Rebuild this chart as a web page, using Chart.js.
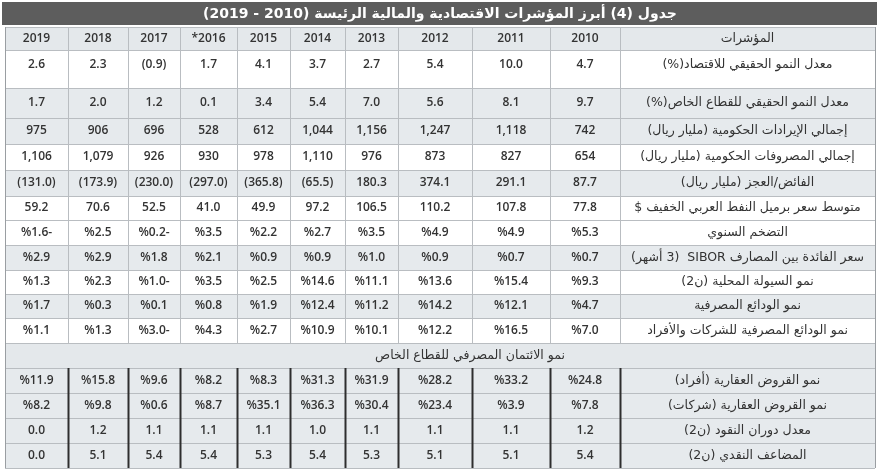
<!DOCTYPE html>
<html>
<head>
<meta charset="utf-8">
<script src="https://cdn.jsdelivr.net/npm/chart.js@4/dist/chart.umd.min.js"></script>
<style>
  html, body { margin: 0; padding: 0; background: #fff; }
  #wrap { width: 879px; height: 471px; }
</style>
</head>
<body>
<div id="wrap"><canvas id="tbl"></canvas></div>
<script>
// Data (years left-to-right in reference: 2019 ... 2010)
const title = 'جدول (4) أبرز المؤشرات الاقتصادية والمالية الرئيسة (2010 - 2019)';
const headLabel = 'المؤشرات';
const years = ['2010', '2011', '2012', '2013', '2014', '2015', '*2016', '2017', '2018', '2019'];
const sectionTitle = 'نمو الائتمان المصرفي للقطاع الخاص';

const gdpGrowth      = ['4.7', '10.0', '5.4', '2.7', '3.7', '4.1', '1.7', '(0.9)', '2.3', '2.6'];
const privGrowth     = ['9.7', '8.1', '5.6', '7.0', '5.4', '3.4', '0.1', '1.2', '2.0', '1.7'];
const govRevenue     = ['742', '1,118', '1,247', '1,156', '1,044', '612', '528', '696', '906', '975'];
const govSpending    = ['654', '827', '873', '976', '1,110', '978', '930', '926', '1,079', '1,106'];
const surplus        = ['87.7', '291.1', '374.1', '180.3', '(65.5)', '(365.8)', '(297.0)', '(230.0)', '(173.9)', '(131.0)'];
const oilPrice       = ['77.8', '107.8', '110.2', '106.5', '97.2', '49.9', '41.0', '52.5', '70.6', '59.2'];
const inflation      = ['%5.3', '%4.9', '%4.9', '%3.5', '%2.7', '%2.2', '%3.5', '%0.2-', '%2.5', '%1.6-'];
const sibor          = ['%0.7', '%0.7', '%0.9', '%1.0', '%0.9', '%0.9', '%2.1', '%1.8', '%2.9', '%2.9'];
const m2Growth       = ['%9.3', '%15.4', '%13.6', '%11.1', '%14.6', '%2.5', '%3.5', '%1.0-', '%2.3', '%1.3'];
const depositGrowth  = ['%4.7', '%12.1', '%14.2', '%11.2', '%12.4', '%1.9', '%0.8', '%0.1', '%0.3', '%1.7'];
const corpDeposits   = ['%7.0', '%16.5', '%12.2', '%10.1', '%10.9', '%2.7', '%4.3', '%3.0-', '%1.3', '%1.1'];
const mortIndiv      = ['%24.8', '%33.2', '%28.2', '%31.9', '%31.3', '%8.3', '%8.2', '%9.6', '%15.8', '%11.9'];
const mortCorp       = ['%7.8', '%3.9', '%23.4', '%30.4', '%36.3', '%35.1', '%8.7', '%0.6', '%9.8', '%8.2'];
const velocity       = ['1.2', '1.1', '1.1', '1.1', '1.0', '1.1', '1.1', '1.1', '1.2', '0.0'];
const multiplier     = ['5.4', '5.1', '5.1', '5.3', '5.4', '5.3', '5.4', '5.4', '5.1', '0.0'];

const rows = [
  { label: 'معدل النمو الحقيقي للاقتصاد(%)', values: gdpGrowth, gray: false, tall: true },
  { label: 'معدل النمو الحقيقي للقطاع الخاص(%)', values: privGrowth, gray: true },
  { label: 'إجمالي الإيرادات الحكومية (مليار ريال)', values: govRevenue, gray: true },
  { label: 'إجمالي المصروفات الحكومية (مليار ريال)', values: govSpending, gray: false },
  { label: 'الفائض/العجز (مليار ريال)', values: surplus, gray: true },
  { label: 'متوسط سعر برميل النفط العربي الخفيف $', values: oilPrice, gray: false },
  { label: 'التضخم السنوي', values: inflation, gray: false },
  { label: 'سعر الفائدة بين المصارف SIBOR  (3 أشهر)', values: sibor, gray: true },
  { label: 'نمو السيولة المحلية (ن2)', values: m2Growth, gray: false },
  { label: 'نمو الودائع المصرفية', values: depositGrowth, gray: true },
  { label: 'نمو الودائع المصرفية للشركات والأفراد', values: corpDeposits, gray: false },
  { section: sectionTitle },
  { label: 'نمو القروض العقارية (أفراد)', values: mortIndiv, gray: true },
  { label: 'نمو القروض العقارية (شركات)', values: mortCorp, gray: true },
  { label: 'معدل دوران النقود (ن2)', values: velocity, gray: true },
  { label: 'المضاعف النقدي (ن2)', values: multiplier, gray: true }
];

// Layout (in scale units = pixels of the reference)
const colEdges = [5, 68, 128, 180, 237, 290, 345, 398, 472, 550, 620, 875]; // 2019 .. 2010, label
const rowEdges = [50, 88, 118, 144, 170, 196, 220, 245, 270, 294, 318, 343, 368, 393, 418, 443, 468];
const titleBox = [2, 25];
const headBox = [27, 50];

const numFont = "600 12px 'Open Sans', 'DejaVu Sans', sans-serif";
const arFont = "12.5px 'DejaVu Sans', sans-serif";

const tablePlugin = {
  id: 'tablePlugin',
  afterDraw(chart) {
    const { ctx } = chart;
    const X = v => chart.scales.x.getPixelForValue(v);
    const Y = v => chart.scales.y.getPixelForValue(v);
    const L = X(colEdges[0]), R = X(colEdges[colEdges.length - 1]);
    ctx.save();

    // title bar
    ctx.fillStyle = '#5d5d5d';
    ctx.fillRect(X(2), Y(titleBox[0]), X(877) - X(2), Y(titleBox[1]) - Y(titleBox[0]));
    ctx.fillStyle = '#fff';
    ctx.font = "bold 14px 'DejaVu Sans', sans-serif";
    ctx.direction = 'rtl';
    ctx.textAlign = 'center';
    ctx.textBaseline = 'middle';
    ctx.fillText(title, X(440), Y(14));

    // header row
    ctx.fillStyle = '#e4e8eb';
    ctx.fillRect(L, Y(headBox[0]), R - L, Y(headBox[1]) - Y(headBox[0]));
    ctx.fillStyle = '#333';
    ctx.font = arFont;
    ctx.fillText(headLabel, (X(colEdges[10]) + R) / 2, Y(39));
    ctx.direction = 'ltr';
    ctx.font = numFont;
    years.forEach((yr, i) => {
      const c = 9 - i;
      ctx.fillText(yr, (X(colEdges[c]) + X(colEdges[c + 1])) / 2, Y(39));
    });

    // body rows
    rows.forEach((row, r) => {
      const top = Y(rowEdges[r]), bot = Y(rowEdges[r + 1]);
      const h = bot - top;
      if (row.section) {
        ctx.fillStyle = '#e4e8eb';
        ctx.fillRect(L, top, R - L, h);
        ctx.fillStyle = '#333';
        ctx.font = arFont;
        ctx.direction = 'rtl';
        ctx.textAlign = 'center';
        ctx.fillText(row.section, X(470), top + h / 2);
        return;
      }
      ctx.fillStyle = row.gray ? '#e6eaed' : '#ffffff';
      ctx.fillRect(L, top, R - L, h);
      const ty = row.tall ? top + 15 : top + h / 2;
      ctx.fillStyle = '#333';
      ctx.font = arFont;
      ctx.direction = 'rtl';
      ctx.textAlign = 'center';
      ctx.fillText(row.label, (X(colEdges[10]) + R) / 2, ty);
      ctx.font = numFont;
      ctx.direction = 'ltr';
      row.values.forEach((v, i) => {
        const c = 9 - i;
        ctx.fillText(v, (X(colEdges[c]) + X(colEdges[c + 1])) / 2, ty);
      });
    });

    // grid lines
    ctx.strokeStyle = '#b9bdc1';
    ctx.lineWidth = 1;
    const hLines = [headBox[0], ...rowEdges];
    hLines.forEach(y => {
      ctx.beginPath();
      ctx.moveTo(L, Math.round(Y(y)) + 0.5);
      ctx.lineTo(R, Math.round(Y(y)) + 0.5);
      ctx.stroke();
    });
    colEdges.forEach((x, c) => {
      const edge = c === 0 || c === colEdges.length - 1;
      const px = Math.round(X(x)) + 0.5;
      ctx.strokeStyle = edge ? '#9a9ea2' : '#b9bdc1';
      ctx.beginPath();
      ctx.moveTo(px, Y(headBox[0]));
      ctx.lineTo(px, Y(rowEdges[11]));
      ctx.stroke();
      if (edge) {
        ctx.beginPath();
        ctx.moveTo(px, Y(rowEdges[11]));
        ctx.lineTo(px, Y(rowEdges[12]));
        ctx.stroke();
      }
      // lower block with dark separators
      ctx.beginPath();
      ctx.strokeStyle = edge ? '#9a9ea2' : '#2e2e2e';
      ctx.lineWidth = edge ? 1 : 2;
      ctx.moveTo(px, Y(rowEdges[12]));
      ctx.lineTo(px, Y(rowEdges[16]));
      ctx.stroke();
      ctx.lineWidth = 1;
    });
    ctx.restore();
  }
};

new Chart(document.getElementById('tbl'), {
  type: 'scatter',
  data: { datasets: [] },
  options: {
    responsive: true,
    maintainAspectRatio: false,
    animation: false,
    layout: { padding: 0 },
    plugins: { legend: { display: false }, tooltip: { enabled: false } },
    scales: {
      x: { type: 'linear', min: 0, max: 879, display: false },
      y: { type: 'linear', min: 0, max: 471, reverse: true, display: false }
    }
  },
  plugins: [tablePlugin]
});
</script>
</body>
</html>
